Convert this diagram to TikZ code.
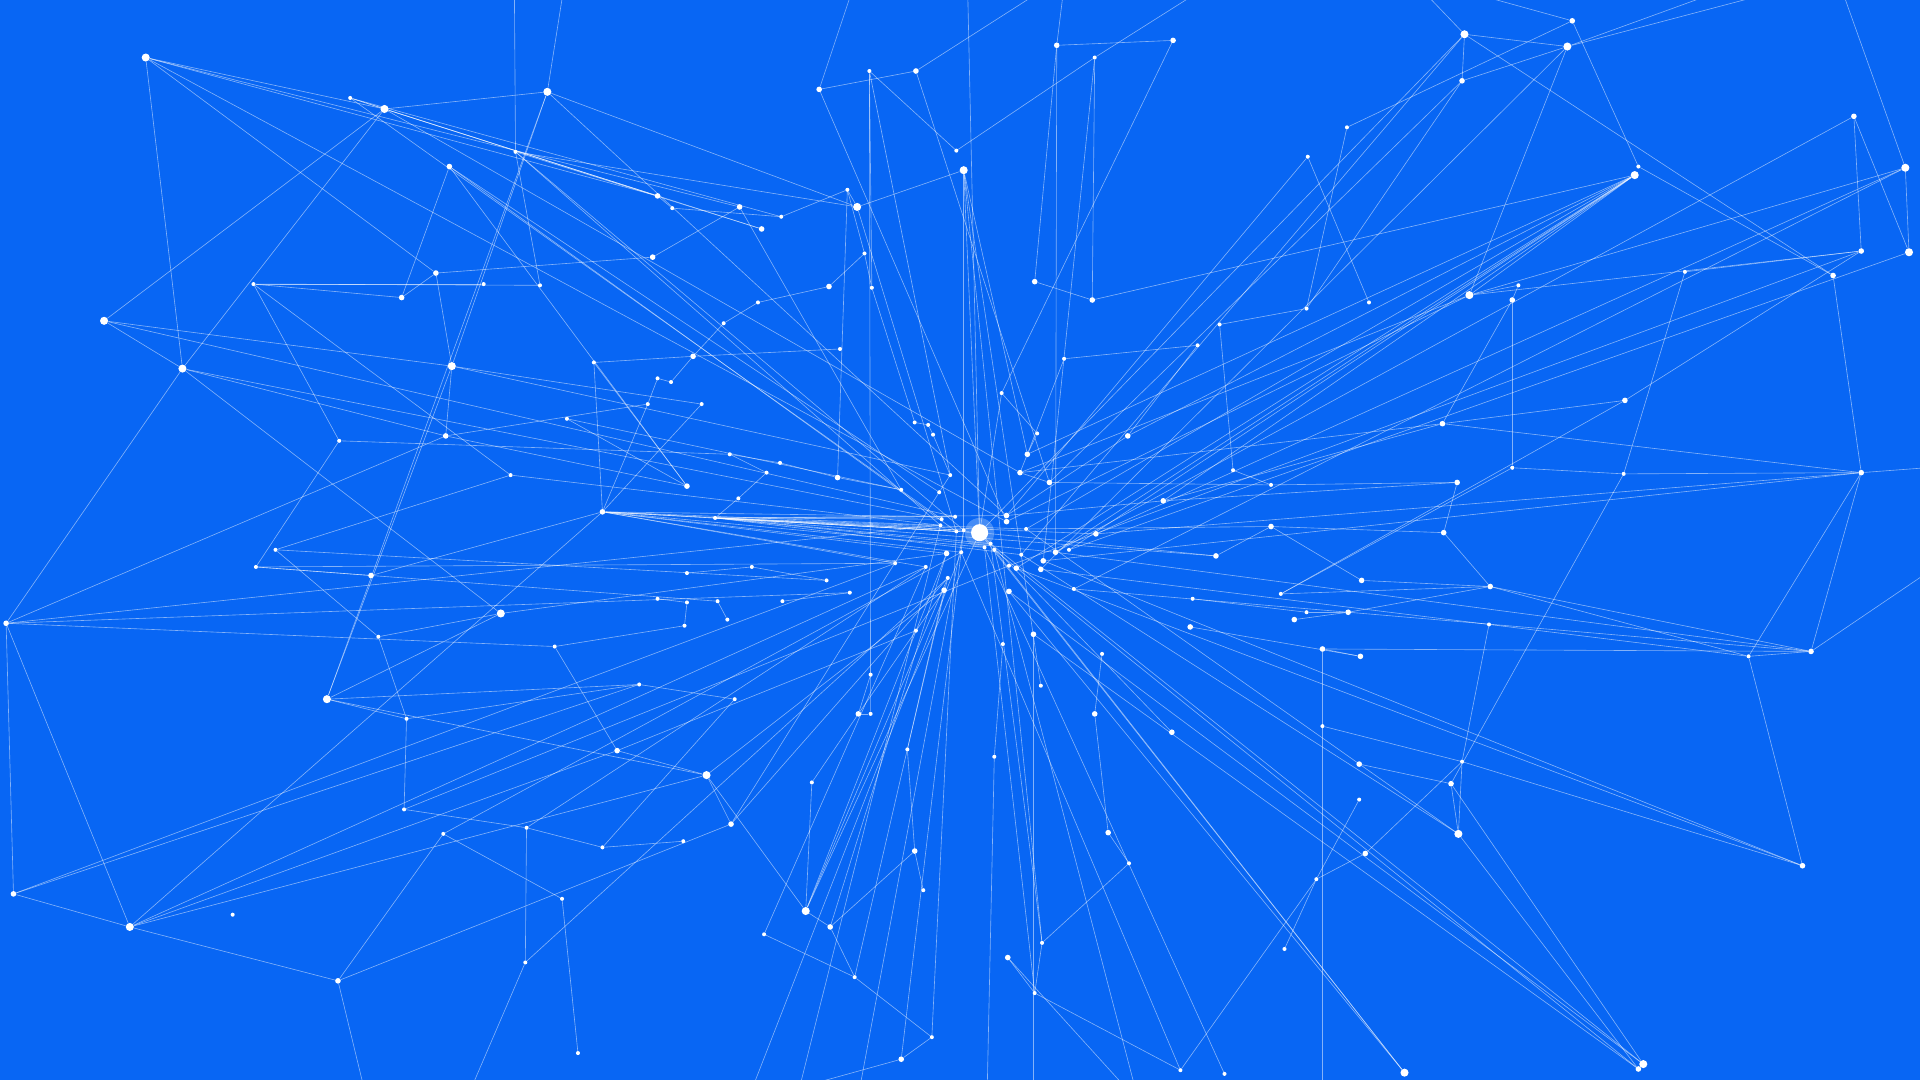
\documentclass[tikz,border=0pt]{standalone}
\usepackage{tikz}
\definecolor{bgblue}{RGB}{8,102,244}

\begin{document}
\begin{tikzpicture}[x=1pt,y=-1pt,
  spot/.style={circle,fill=white,inner sep=0pt,minimum size=3.3pt},
  mid spot/.style={spot,minimum size=4.6pt},
  big spot/.style={spot,minimum size=6.6pt},
  hub/.style={spot,minimum size=14pt},
  link/.style={color=white,draw opacity=.5,line width=.5pt}]

  \path[use as bounding box] (0,0) rectangle (1568,882);
  \clip (0,0) rectangle (1568,882);
  \fill[bgblue] (0,0) rectangle (1568,882);

  % the dots
  \foreach \n/\x/\y in {t1/119/47, t3/314/89, t4/447/75, t15/700/169, t19/787/139, t24/1196/28, t25/1280/38, t30/1335/143, t33/1556/137, t34/1559/206, t40/1200/241, t55/85/262, u1/149/301, u2/369/299, l5/409/501, l8/267/571, l13/577/633, l21/106/757, m1/658/744, r19/1191/681, r24/1147/876, r25/1342/869}
    \node[big spot] (\n) at (\x,\y) {};
  \foreach \n/\x/\y in {t5/367/136, t7/537/160, t9/604/169, t10/622/187, t12/669/73, t14/748/58, t21/863/37, t23/958/33, t26/1284/17, t27/1194/66, t32/1514/95, t35/1520/205, t36/1497/225, t39/1235/245, t43/845/230, t44/892/245, t45/677/234, t48/566/291, t50/533/210, t52/356/223, t53/328/243, u6/364/356, u8/492/418, u16/561/397, u17/684/390, u28/921/356, u29/1178/346, u30/1327/327, u34/1520/386, u36/1190/394, u37/950/409, u38/1038/430, u39/1179/435, c1/839/371, c2/833/386, c3/857/394, c10/822/421, c11/822/426, c15/895/436, c19/773/452, c22/862/451, c24/852/458, c26/830/464, c27/850/465, c31/771/482, c32/824/483, c35/844/518, c38/993/454, l3/303/470, l4/5/509, l12/504/613, l14/597/673, l20/11/730, l23/276/801, m2/678/757, m4/701/583, m8/747/695, m13/736/865, m17/894/583, m19/957/598, m20/905/680, m23/823/782, r2/972/512, r5/1101/500, r6/1057/506, r7/1112/474, r8/1217/479, r10/1080/530, r11/1111/536, r13/1479/532, r15/1110/624, r17/1185/640, r20/1472/707, r21/1115/697, r26/1338/873}
    \node[mid spot] (\n) at (\x,\y) {};
  \foreach \n/\x/\y in {t2/286/80, t6/421/124, t8/549/170, t11/638/177, t13/710/58, t16/692/155, t17/706/207, t18/712/235, t20/781/123, t22/894/47, t28/1100/104, t29/1068/128, t31/1338/136, t37/1376/222, t38/1240/233, t41/1118/247, t42/1067/252, t46/619/247, t47/591/264, t49/686/285, t51/441/233, t54/207/232, t56/395/232, u3/485/296, u4/463/342, u5/277/360, u7/417/388, u9/537/309, u10/548/312, u11/529/330, u12/573/330, u13/596/371, u14/637/378, u15/626/386, u18/603/407, u19/584/423, u20/747/345, u21/758/347, u22/762/355, u23/818/321, u24/847/354, u25/869/293, u26/996/265, u27/978/282, u31/1007/384, u32/1235/382, u33/1326/387, u35/1038/396, c4/776/388, c5/736/400, c6/767/402, c7/780/422, c8/769/424, c9/768/429, c12/781/434, c13/787/433, c14/838/432, c16/804/447, c17/809/444, c18/812/449, c20/785/451, c21/834/453, c23/873/449, c25/824/462, c28/731/460, c29/756/463, c30/774/472, c33/877/481, c34/748/515, c36/675/474, c37/694/484, l1/225/449, l2/209/463, l6/309/520, l7/453/528, l9/332/587, l10/522/559, l11/600/571, l15/330/661, l16/362/681, l17/430/676, l18/492/692, l19/558/687, l22/190/747, l24/459/734, l25/429/786, l26/472/860, l27/537/489, l28/561/492, l29/586/491, l30/594/506, l31/614/463, l32/639/491, l33/559/511, l34/561/468, m3/663/639, m5/711/583, m6/711/551, m7/741/612, m9/754/727, m10/698/798, m11/624/763, m12/761/847, m14/812/618, m15/819/526, m16/850/560, m18/900/534, m21/922/705, m22/851/770, m24/845/811, m25/964/874, m26/1000/877, r1/974/489, r3/1046/485, r4/1067/500, r9/1216/510, r12/1428/536, r14/1080/593, r16/1194/622, r18/1110/653, r22/1075/718, r23/1049/775}
    \node[spot] (\n) at (\x,\y) {};

  \fill[white,opacity=.25] (800,435) circle (12);
  \node[hub] (h0) at (800,435) {};

  % ends off the picture
  \coordinate (o1) at (420,-20);  \coordinate (o2) at (700,-20);
  \coordinate (o3) at (790,-20);  \coordinate (o4) at (870,-20);
  \coordinate (o5) at (1150,-20); \coordinate (o6) at (1440,-20);
  \coordinate (o7) at (1600,380); \coordinate (o8) at (1600,450);
  \coordinate (o9) at (1000,-20); \coordinate (o10) at (300,900);
  \coordinate (o11) at (610,900); \coordinate (o12) at (806,900);
  \coordinate (o13) at (844,900); \coordinate (o14) at (930,900);
  \coordinate (o15) at (1080,900); \coordinate (o16) at (1500,-20);
  \coordinate (o17) at (380,900); \coordinate (o18) at (462,-20);
  \coordinate (o19) at (650,900); \coordinate (o20) at (700,900);

  % top left
  \path[link]
    (t1) edge (t3) edge (t7) edge (t9) edge (t52) edge (u1)
    (t2) edge (t7) edge (t10) edge (t11) edge (c8)
    (t3) edge (t4) edge (t7) edge (t55) edge (c2) edge (u1)
    (t4) edge (t15) edge (u2) edge (l8) edge (o18)
    (t5) edge (t53) edge (u16) edge (c6)
    (t6) edge (t51) edge (t15) edge (c9) edge (t10) edge (o1)
    (t52) edge (t53) edge (t50) edge (u2)
    (t54) edge (t53) edge (t51) edge (u5) edge (u7)
    (t56) edge (t54)
    (t55) edge (u1) edge (u2)
    (t50) edge (t9)
    (t8) edge (t7) edge (t11)
    (u1) edge (u6) edge (l4) edge (l5)
    (u2) edge (l8) edge (u6) edge (u12) edge (c4)
    (u6) edge (l4) edge (u16) edge (u11)
    (u5) edge (l2) edge (u13)
    (u7) edge (l1) edge (c9)
    (u3) edge (u8) edge (t48) edge (u16)
    (u4) edge (u16) edge (c5)
    (t48) edge (t49) edge (t47)
    (u9) edge (u10) edge (u11)
    (u10) edge (t48)
    (u13) edge (u14) edge (u15)
    (u15) edge (u18)
    (u14) edge (u17)
    (u18) edge (u19)
    (u17) edge (c5);

  % top middle
  \path[link]
    (t45) edge (t46) edge (t17)
    (t46) edge (t47)
    (t17) edge (t18) edge (t16)
    (t18) edge (t13)
    (t12) edge (t14) edge (o2)
    (t13) edge (t20) edge (m5)
    (t14) edge (o4)
    (t20) edge (t22)
    (t19) edge (t15) edge (c13) edge (m16) edge (m22)
    (t15) edge (t16) edge (c12)
    (t16) edge (t11) edge (u17)
    (t21) edge (t23) edge (t43) edge (o4)
    (t22) edge (t44) edge (o9)
    (t23) edge (u23)
    (t44) edge (t43) edge (t30)
    (u20) edge (u21) edge (t18)
    (u21) edge (u22)
    (u22) edge (c4)
    (u24) edge (c1) edge (u23)
    (u25) edge (u27)
    (u27) edge (u28)
    (u26) edge (t42);

  % top right
  \path[link]
    (t24) edge (t25) edge (t36) edge (t27) edge (o5)
    (t26) edge (t28) edge (t31) edge (o5)
    (t25) edge (t27) edge (t40) edge (o6) edge (o16)
    (t27) edge (t42) edge (c3)
    (t28) edge (t42)
    (t29) edge (t41) edge (c10)
    (t30) edge (t40) edge (c1) edge (c14) edge (u37) edge (u28) edge (c22)
    (t31) edge (t36)
    (t32) edge (t35) edge (c22) edge (t34)
    (t33) edge (t34) edge (t40) edge (c15) edge (o16)
    (t34) edge (c23)
    (t35) edge (t37) edge (u30) edge (t40)
    (t36) edge (u34)
    (t37) edge (u33)
    (t38) edge (t40) edge (t39)
    (t39) edge (u32) edge (u29)
    (t40) edge (c2) edge (c11)
    (u29) edge (u30) edge (u34) edge (c2)
    (u30) edge (r3)
    (u32) edge (u33) edge (r3)
    (u33) edge (u34) edge (r17)
    (u34) edge (r13) edge (o7)
    (u35) edge (u36) edge (c3)
    (u31) edge (u26) edge (u35)
    (u36) edge (u37) edge (u39)
    (u37) edge (u29) edge (c10)
    (u38) edge (u39) edge (r7) edge (c14)
    (u39) edge (r8)
    (c38) edge (h0) edge (u38)
    (u28) edge (c10);

  % fans into the hub
  \path[link]
    (u8) edge (h0) edge (c7) edge (c12) edge (c19) edge (c9) edge (c13) edge (c20)
         edge (c28) edge (c16) edge (l3) edge (u11) edge (u12) edge (l21) edge (c29)
    (u19) edge (h0) edge (c7) edge (c8) edge (c12) edge (c13) edge (c14) edge (c17)
         edge (c10) edge (c21) edge (c22) edge (c15) edge (c38);

  % long spokes
  \path[link]
    (h0) edge (t19) edge (t24) edge (m1) edge (r24) edge (u23) edge (o3)
    (c1) edge (t19) edge (u25) edge (c2)
    (c3) edge (t14) edge (c2)
    (c4) edge (t13) edge (c6)
    (c5) edge (t9)
    (c10) edge (t4)
    (c11) edge (t12) edge (t1)
    (c21) edge (t24) edge (r19)
    (c22) edge (t21) edge (r13)
    (c23) edge (t30)
    (c24) edge (t22) edge (u34) edge (r20)
    (c25) edge (t35) edge (l15)
    (c26) edge (t30) edge (r20)
    (c27) edge (t25) edge (r12)
    (c33) edge (t33) edge (r13)
    (c15) edge (u34)
    (c32) edge (r25) edge (r24)
    (c35) edge (r26) edge (o13)
    (c18) edge (r24) edge (r26) edge (o14)
    (c16) edge (m26) edge (m24)
    (c20) edge (m25) edge (l16) edge (o11)
    (c17) edge (m22) edge (r25)
    (c13) edge (m13) edge (o20)
    (c12) edge (m12) edge (t5)
    (c19) edge (m1) edge (l5) edge (m2)
    (c30) edge (m1) edge (l25) edge (l14)
    (c31) edge (l13) edge (m4) edge (m10)
    (c29) edge (l21) edge (l17) edge (m11)
    (c28) edge (l20) edge (l2)
    (c9) edge (l4) edge (o19)
    (c8) edge (u1)
    (c7) edge (t55)
    (c13) edge (t6)
    (c14) edge (r19)
    (c6) edge (l14)
    (c36) edge (l1)
    (c37) edge (l4)
    (c34) edge (l12);

  % lower left
  \path[link]
    (l1) edge (l6)
    (l2) edge (l3)
    (l4) edge (l7) edge (l20) edge (l21)
    (l5) edge (l8) edge (l6)
    (l6) edge (l9)
    (l8) edge (l9) edge (l13) edge (l10)
    (l7) edge (l33) edge (l12)
    (l9) edge (l15) edge (l10)
    (l10) edge (l11) edge (l20)
    (l11) edge (l18)
    (l12) edge (l13) edge (l21)
    (l13) edge (l14) edge (l21) edge (m1)
    (l14) edge (l23)
    (l15) edge (l17)
    (l16) edge (l24) edge (l23)
    (l17) edge (l18) edge (l25)
    (l18) edge (l19)
    (l20) edge (l21)
    (l23) edge (l21) edge (o10)
    (l24) edge (l26)
    (l25) edge (o17)
    (l27) edge (l28)
    (l29) edge (l30) edge (l2)
    (l34) edge (l31)
    (l31) edge (c36)
    (l32) edge (c37)
    (l33) edge (l28);

  % lower middle
  \path[link]
    (m1) edge (m2) edge (m3)
    (m2) edge (m10) edge (m8)
    (m3) edge (m4)
    (m4) edge (m5) edge (m6)
    (m7) edge (m8) edge (c30)
    (m8) edge (m9)
    (m10) edge (m11) edge (m12)
    (m12) edge (m13)
    (m13) edge (o11)
    (m14) edge (m15) edge (o12)
    (m17) edge (m20) edge (m18)
    (m19) edge (h0)
    (m20) edge (m21)
    (m21) edge (m22)
    (m22) edge (m24)
    (m23) edge (m24) edge (o14)
    (m24) edge (m25)
    (m25) edge (r22);

  % lower right
  \path[link]
    (r1) edge (r4)
    (r2) edge (r11)
    (r3) edge (r8)
    (r4) edge (r5)
    (r5) edge (r6) edge (r8)
    (r7) edge (r8)
    (r8) edge (r13) edge (r12)
    (r9) edge (r16)
    (r10) edge (r11) edge (r13) edge (r14)
    (r12) edge (r13) edge (r20) edge (u34)
    (r13) edge (o8)
    (r14) edge (r16) edge (o15)
    (r15) edge (r17)
    (r16) edge (r19) edge (r20) edge (r21)
    (r17) edge (r19) edge (r25)
    (r18) edge (r22)
    (r19) edge (r26)
    (r21) edge (r22)
    (r22) edge (r23);

\end{tikzpicture}
\end{document}
